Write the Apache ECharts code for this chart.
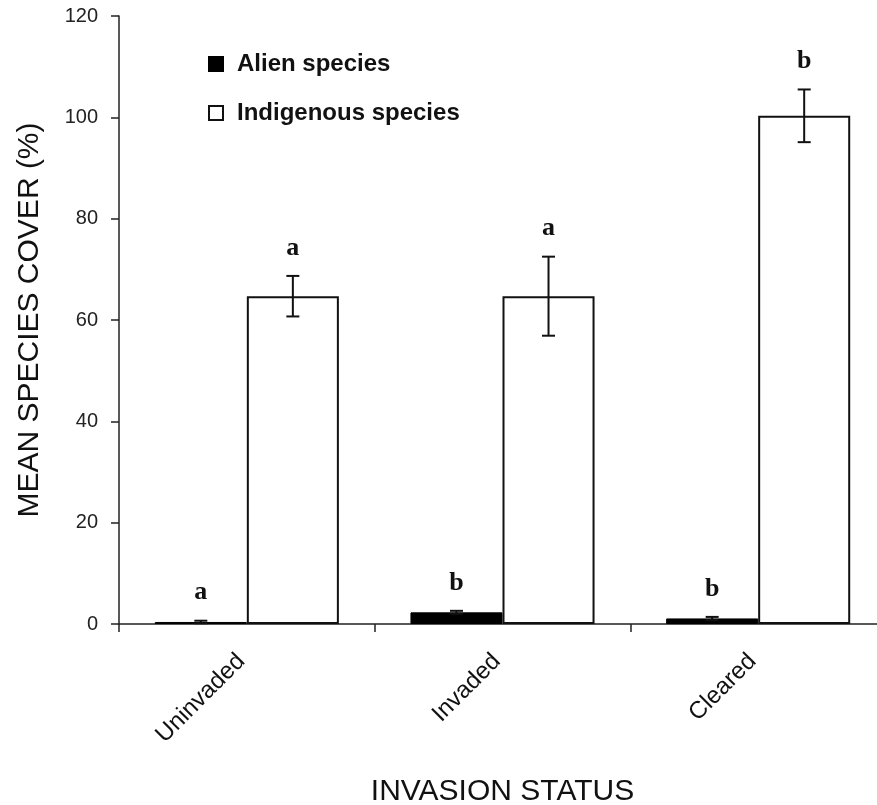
<!DOCTYPE html>
<html>
<head>
<meta charset="utf-8">
<script src="https://cdn.jsdelivr.net/npm/echarts@6/dist/echarts.min.js"></script>
<style>html,body{margin:0;padding:0;background:#fff;}#c{width:877px;height:805px;}</style>
</head>
<body>
<div id="c"></div>
<script>
var categories = ['Uninvaded', 'Invaded', 'Cleared'];
var alienMean = [0.4, 2.3, 1.1];
var alienErr = [0.25, 0.3, 0.3];
var indigenousMean = [64.7, 64.7, 100.3];
var indigenousErr = [4.0, 7.8, 5.2];
var alienLetters = ['a', 'b', 'b'];
var indigenousLetters = ['a', 'a', 'b'];
var yTicks = [0, 20, 40, 60, 80, 100, 120];

var CAT_GAP = 0.28;

function errData(means, errs, letters) {
  return categories.map(function (c, i) { return [i, means[i], errs[i], letters[i]]; });
}

function makeErr(side) {
  return function (params, api) {
    var idx = api.value(0), m = api.value(1), e = api.value(2);
    var band = api.size([1, 0])[0];
    var off = side * band * (1 - CAT_GAP) / 4;
    var hi = api.coord([idx, m + e]);
    var lo = api.coord([idx, m - e]);
    var x = hi[0] + off;
    var cap = 6.5;
    var st = { stroke: '#111', lineWidth: 2 };
    return {
      type: 'group',
      children: [
        { type: 'line', shape: { x1: x, y1: hi[1], x2: x, y2: lo[1] }, style: st },
        { type: 'line', shape: { x1: x - cap, y1: hi[1], x2: x + cap, y2: hi[1] }, style: st },
        { type: 'line', shape: { x1: x - cap, y1: lo[1], x2: x + cap, y2: lo[1] }, style: st },
        { type: 'text', x: x, y: hi[1] - 28, style: {
            text: api.value(3), fill: '#111', align: 'center', verticalAlign: 'middle',
            font: 'bold 26px "Liberation Serif", "Times New Roman", serif' } }
      ]
    };
  };
}

var chart = echarts.init(document.getElementById('c'), null, { renderer: 'canvas' });
chart.setOption({
  animation: false,
  backgroundColor: '#fff',
  grid: { left: 119, right: -9, top: 16, bottom: 181, containLabel: false, outerBoundsMode: 'none' },
  legend: {
    orient: 'vertical', left: 203, top: 47, itemWidth: 14, itemHeight: 14, itemGap: 25, icon: 'rect',
    data: ['Alien species', 'Indigenous species'],
    textStyle: { fontFamily: '"Liberation Sans", Arial, sans-serif', fontWeight: 'bold', fontSize: 24, color: '#111', padding: [0, 0, 0, 9] }
  },
  xAxis: {
    type: 'category', data: categories,
    name: 'INVASION STATUS', nameLocation: 'middle', nameGap: 153,
    nameTextStyle: { fontFamily: '"Liberation Sans", Arial, sans-serif', fontSize: 30, color: '#111' },
    axisLine: { lineStyle: { color: '#222', width: 1.5 } },
    axisTick: { show: true, alignWithLabel: false, length: 8, lineStyle: { color: '#222', width: 1.5 } },
    axisLabel: { rotate: 45, margin: 28, padding: [0, 8, 0, 0], fontFamily: '"Liberation Sans", Arial, sans-serif', fontSize: 24, color: '#111' }
  },
  yAxis: {
    type: 'value', min: 0, max: 120, interval: 20,
    name: 'MEAN SPECIES COVER (%)', nameLocation: 'middle', nameGap: 74,
    nameTextStyle: { fontFamily: '"Liberation Sans", Arial, sans-serif', fontSize: 30, color: '#111' },
    axisLine: { show: true, lineStyle: { color: '#222', width: 1.5 } },
    axisTick: { show: true, length: 8, lineStyle: { color: '#222', width: 1.5 } },
    splitLine: { show: false },
    axisLabel: { margin: 21, fontFamily: '"Liberation Sans", Arial, sans-serif', fontSize: 20, color: '#222',
      formatter: function (v) { return yTicks.indexOf(v) >= 0 ? String(v) : ''; } }
  },
  series: [
    { name: 'Alien species', type: 'bar', data: alienMean, barGap: '0%', barCategoryGap: (CAT_GAP * 100) + '%',
      itemStyle: { color: '#000', borderColor: '#000', borderWidth: 1 } },
    { name: 'Indigenous species', type: 'bar', data: indigenousMean, barGap: '0%', barCategoryGap: (CAT_GAP * 100) + '%',
      itemStyle: { color: '#fff', borderColor: '#111', borderWidth: 2 } },
    { type: 'custom', renderItem: makeErr(-1), data: errData(alienMean, alienErr, alienLetters), z: 10, silent: true },
    { type: 'custom', renderItem: makeErr(1), data: errData(indigenousMean, indigenousErr, indigenousLetters), z: 10, silent: true }
  ]
});
</script>
</body>
</html>
